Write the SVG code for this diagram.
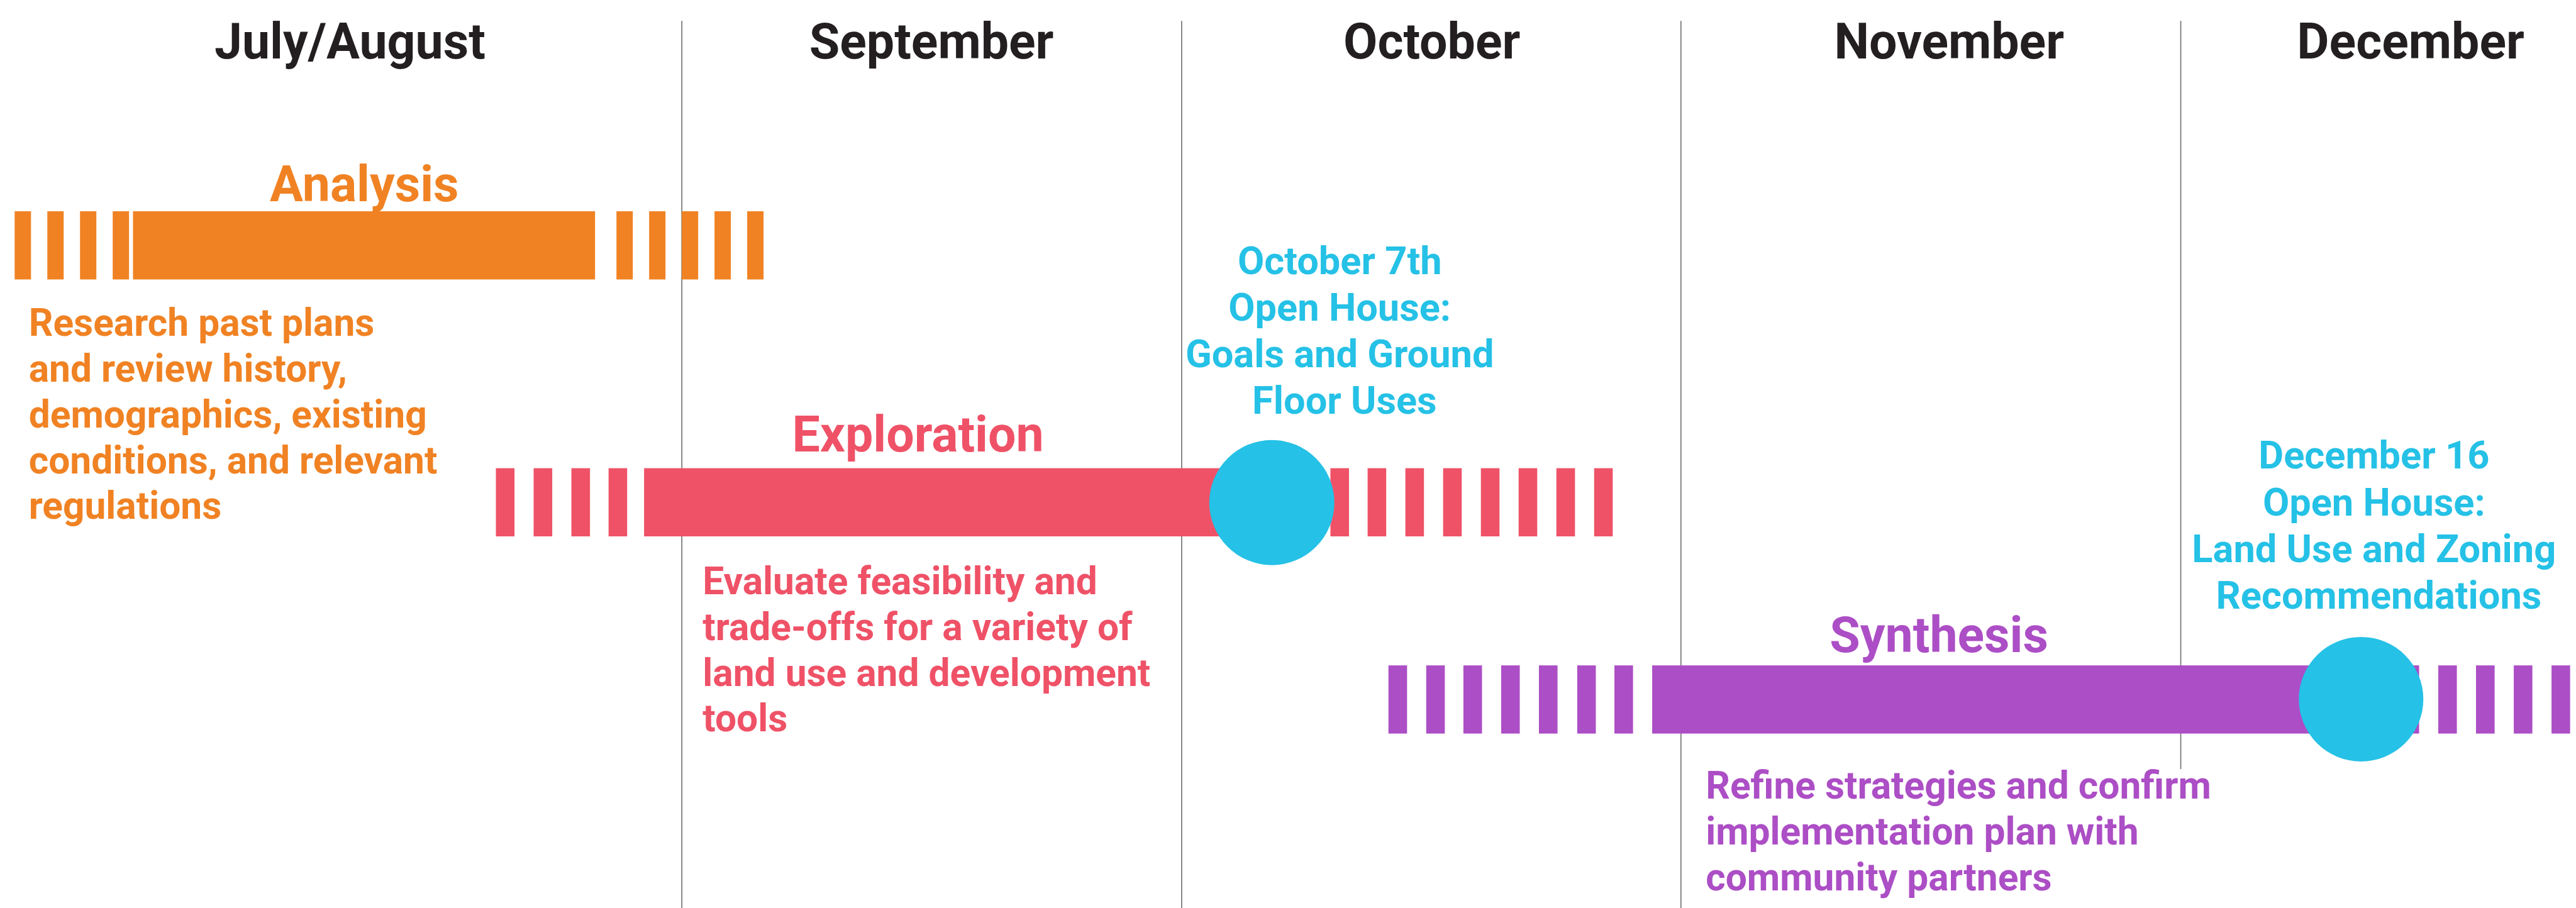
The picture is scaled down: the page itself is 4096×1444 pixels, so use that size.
<svg xmlns="http://www.w3.org/2000/svg" width="4096" height="1444" viewBox="0 0 4096 1444">
  <style>
    text { font-family: Roboto, "Liberation Sans", sans-serif; font-weight: 700; }
    .month { font-size: 88px; fill: #231F20; text-anchor: middle; }
    .title { font-size: 88px; text-anchor: middle; }
    .desc { font-size: 67.5px; }
    .event { font-size: 68.5px; fill: #25C1E6; text-anchor: middle; }
    .grid { stroke: #7A7A7A; stroke-width: 2; fill: none; }
    .orange { fill: #F08223; }
    .pink { fill: #EF5267; }
    .purple { fill: #AC4EC5; }
    .dot { fill: #25C1E6; }
  </style>
  <rect width="4096" height="1444" fill="#FFFFFF"/>
  <!-- layout drawn in 4571-wide units, scaled to the canvas -->
  <g transform="scale(0.896)">
    <!-- month column separators (sit behind the bars) -->
    <g id="month-dividers">
      <line class="grid" x1="1210" y1="37" x2="1210" y2="1612"/>
      <line class="grid" x1="2097" y1="37" x2="2097" y2="1612"/>
      <line class="grid" x1="2983" y1="37" x2="2983" y2="1612"/>
      <line class="grid" x1="3870" y1="37" x2="3870" y2="1365"/>
    </g>

    <g id="months">
      <text class="month" x="621" y="103.5">July/August</text>
      <text class="month" x="1653" y="103.5">September</text>
      <text class="month" x="2541" y="103.5">October</text>
      <text class="month" x="3459" y="103.5">November</text>
      <text class="month" x="4278" y="103.5">December</text>
    </g>

    <!-- Analysis phase -->
    <g id="phase-analysis">
      <g class="orange">
        <rect x="26" y="375" width="29" height="121"/>
        <rect x="84" y="375" width="29" height="121"/>
        <rect x="142" y="375" width="29" height="121"/>
        <rect x="200" y="375" width="29" height="121"/>
        <rect x="236" y="375" width="820" height="121"/>
        <rect x="1094" y="375" width="29" height="121"/>
        <rect x="1152" y="375" width="29" height="121"/>
        <rect x="1210" y="375" width="29" height="121"/>
        <rect x="1268" y="375" width="29" height="121"/>
        <rect x="1326" y="375" width="29" height="121"/>
      </g>
      <text class="title orange" x="646.5" y="357">Analysis</text>
      <text class="desc orange" x="51">
        <tspan x="51" y="596">Research past plans</tspan>
        <tspan x="51" y="677.5">and review history,</tspan>
        <tspan x="51" y="759">demographics, existing</tspan>
        <tspan x="51" y="840">conditions, and relevant</tspan>
        <tspan x="51" y="921">regulations</tspan>
      </text>
    </g>

    <!-- Exploration phase -->
    <g id="phase-exploration">
      <g class="pink">
        <rect x="880" y="831" width="33" height="121"/>
        <rect x="947" y="831" width="33" height="121"/>
        <rect x="1014" y="831" width="33" height="121"/>
        <rect x="1080" y="831" width="33" height="121"/>
        <rect x="1143" y="831" width="1157" height="121"/>
        <rect x="2361" y="831" width="33" height="121"/>
        <rect x="2427" y="831" width="33" height="121"/>
        <rect x="2494" y="831" width="33" height="121"/>
        <rect x="2561" y="831" width="33" height="121"/>
        <rect x="2628" y="831" width="33" height="121"/>
        <rect x="2695" y="831" width="33" height="121"/>
        <rect x="2762" y="831" width="33" height="121"/>
        <rect x="2829" y="831" width="33" height="121"/>
      </g>
      <text class="title pink" x="1629" y="801">Exploration</text>
      <text class="desc pink" x="1247">
        <tspan x="1247" y="1055">Evaluate feasibility and</tspan>
        <tspan x="1247" y="1136">trade-offs for a variety of</tspan>
        <tspan x="1247" y="1217.5">land use and development</tspan>
        <tspan x="1247" y="1298.5">tools</tspan>
      </text>
    </g>

    <!-- Synthesis phase -->
    <g id="phase-synthesis">
      <g class="purple">
        <rect x="2464" y="1181" width="33" height="121"/>
        <rect x="2531" y="1181" width="33" height="121"/>
        <rect x="2597" y="1181" width="33" height="121"/>
        <rect x="2664" y="1181" width="33" height="121"/>
        <rect x="2731" y="1181" width="33" height="121"/>
        <rect x="2799" y="1181" width="33" height="121"/>
        <rect x="2865" y="1181" width="33" height="121"/>
        <rect x="2932" y="1181" width="1268" height="121"/>
        <rect x="4260" y="1181" width="33" height="121"/>
        <rect x="4327" y="1181" width="33" height="121"/>
        <rect x="4394" y="1181" width="33" height="121"/>
        <rect x="4461" y="1181" width="33" height="121"/>
        <rect x="4528" y="1181" width="33" height="121"/>
      </g>
      <text class="title purple" x="3441" y="1157.5">Synthesis</text>
      <text class="desc purple" x="3027">
        <tspan x="3027" y="1417">Refine strategies and confirm</tspan>
        <tspan x="3027" y="1498.5">implementation plan with</tspan>
        <tspan x="3027" y="1580">community partners</tspan>
      </text>
    </g>

    <!-- Open house milestones -->
    <g id="milestone-oct7">
      <circle class="dot" cx="2257" cy="892" r="111"/>
      <text class="event">
        <tspan x="2386" y="487">October 7th</tspan>
        <tspan x="2386" y="569.5">Open House:</tspan>
        <tspan x="2386" y="652">Goals and Ground</tspan>
        <tspan x="2386" y="734.5">Floor Uses</tspan>
      </text>
    </g>

    <g id="milestone-dec16">
      <circle class="dot" cx="4190" cy="1241" r="110.5"/>
      <text class="event">
        <tspan x="4221.5" y="832">December 16</tspan>
        <tspan x="4221.5" y="915">Open House:</tspan>
        <tspan x="4221.5" y="998">Land Use and Zoning</tspan>
        <tspan x="4221.5" y="1080">Recommendations</tspan>
      </text>
    </g>
  </g>
</svg>
